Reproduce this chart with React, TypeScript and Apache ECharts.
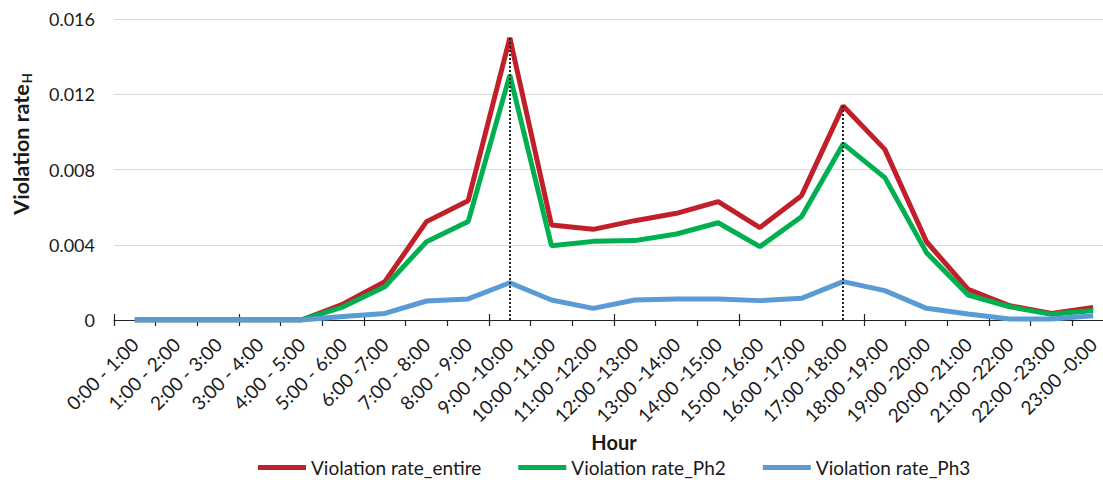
import React, { useEffect, useRef } from "react";
import * as echarts from "echarts";

const hours = [
  "0:00 - 1:00", "1:00 - 2:00", "2:00 - 3:00", "3:00 - 4:00", "4:00 - 5:00", "5:00 - 6:00",
  "6:00 -7:00", "7:00 - 8:00", "8:00 - 9:00", "9:00 -10:00", "10:00 -11:00", "11:00 -12:00",
  "12:00 -13:00", "13:00 -14:00", "14:00 -15:00", "15:00 -16:00", "16:00 -17:00", "17:00 -18:00",
  "18:00 -19:00", "19:00 -20:00", "20:00 -21:00", "21:00 -22:00", "22:00 -23:00", "23:00 -0:00",
];

const rateEntire = [
  0, 0, 0, 0, 0, 0.00085, 0.00204, 0.00523, 0.00634, 0.0150, 0.00505, 0.00482,
  0.00528, 0.00567, 0.00629, 0.00491, 0.00661, 0.01138, 0.00907, 0.00416, 0.00163, 0.00076, 0.00035, 0.00067,
];

const ratePh2 = [
  0, 0, 0, 0, 0, 0.0007, 0.00177, 0.00416, 0.00523, 0.01302, 0.00395, 0.00418,
  0.00422, 0.00457, 0.00517, 0.0039, 0.00549, 0.00936, 0.00757, 0.00358, 0.00133, 0.0007, 0.0003, 0.0005,
];

const ratePh3 = [
  0, 0, 0, 0, 0, 0.00018, 0.00035, 0.00101, 0.00112, 0.00198, 0.00106, 0.00062,
  0.00106, 0.00112, 0.00112, 0.00103, 0.00115, 0.00204, 0.00156, 0.00062, 0.00032, 0.00005, 0.00005, 0.00023,
];

const peakIndices = [9, 17];
const yMin = 0;
const yMax = 0.016;
const yStep = 0.004;

const seriesNames = ["Violation rate_entire", "Violation rate_Ph2", "Violation rate_Ph3"];
const colors = ["#C0202A", "#00B050", "#5B9BD5"];

const FONT = "Lato";
const TEXT = "#1a1a1a";

export default function App() {
  const ref = useRef<HTMLDivElement>(null);

  useEffect(() => {
    if (!ref.current) return;
    const chart = echarts.init(ref.current, null, { renderer: "svg" });

    const mkSeries = (name: string, data: number[], color: string, extra: any = {}) => ({
      name,
      type: "line",
      data,
      symbol: "none",
      lineStyle: { color, width: 5 },
      itemStyle: { color },
      ...extra,
    });

    chart.setOption({
      animation: false,
      textStyle: { fontFamily: FONT },
      grid: { left: 114, top: 19, width: 1000, height: 301, outerBoundsMode: "none", containLabel: false },
      legend: {
        top: 458,
        left: 258,
        itemWidth: 48,
        itemHeight: 5,
        itemGap: 37,
        icon: "rect",
        padding: 0,
        textStyle: { fontFamily: FONT, fontSize: 19, color: TEXT },
        data: seriesNames,
      },
      xAxis: [
        {
          type: "category",
          data: hours,
          boundaryGap: true,
          name: "Hour",
          nameLocation: "middle",
          nameGap: 109,
          nameTextStyle: { fontFamily: FONT, fontSize: 20, fontWeight: "bold", color: TEXT },
          axisLine: { lineStyle: { color: "#222", width: 1.2 } },
          axisTick: { show: true, length: 6, lineStyle: { color: "#222", width: 1.2 } },
          axisLabel: { rotate: 45, margin: 21, fontFamily: FONT, fontSize: 19, color: TEXT, interval: 0 },
          splitLine: { show: false },
        },
        {
          type: "category",
          data: hours,
          position: "bottom",
          boundaryGap: true,
          axisLine: { show: false },
          axisTick: { show: true, inside: true, length: 6, lineStyle: { color: "#222", width: 1.2 } },
          axisLabel: { show: false },
          splitLine: { show: false },
        },
      ],
      yAxis: {
        type: "value",
        min: yMin,
        max: yMax,
        interval: yStep,
        axisLine: { show: false },
        axisTick: { show: false },
        axisLabel: {
          margin: 19,
          fontFamily: FONT,
          fontSize: 18,
          color: TEXT,
          formatter: (v: number) => (v === 0 ? "0" : v.toFixed(3)),
        },
        splitLine: { lineStyle: { color: "#d9d9d9", width: 1.2 } },
      },
      graphic: [
        {
          type: "text",
          x: 21,
          y: 144,
          rotation: Math.PI / 2,
          style: {
            text: "{a|Violation rate}{b|H}",
            align: "center",
            verticalAlign: "middle",
            fill: TEXT,
            rich: {
              a: { fontFamily: FONT, fontSize: 21.5, fontWeight: "bold", fill: TEXT },
              b: { fontFamily: FONT, fontSize: 13, fontWeight: "bold", fill: TEXT, padding: [11, 0, 0, 1] },
            },
          },
        },
      ],
      series: [
        mkSeries(seriesNames[0], rateEntire, colors[0]),
        mkSeries(seriesNames[1], ratePh2, colors[1]),
        mkSeries(seriesNames[2], ratePh3, colors[2], {
          markLine: {
            silent: true,
            symbol: "none",
            label: { show: false },
            lineStyle: { color: "#222", type: [2, 2], width: 2 },
            data: peakIndices.map((i) => [
              { coord: [i, 0] },
              { coord: [i, rateEntire[i]] },
            ]),
          },
        }),
      ],
    });

    return () => chart.dispose();
  }, []);

  return (
    <div
      ref={ref}
      style={{ position: "fixed", left: 0, top: 0, width: 1103, height: 480, background: "#fff" }}
    />
  );
}
